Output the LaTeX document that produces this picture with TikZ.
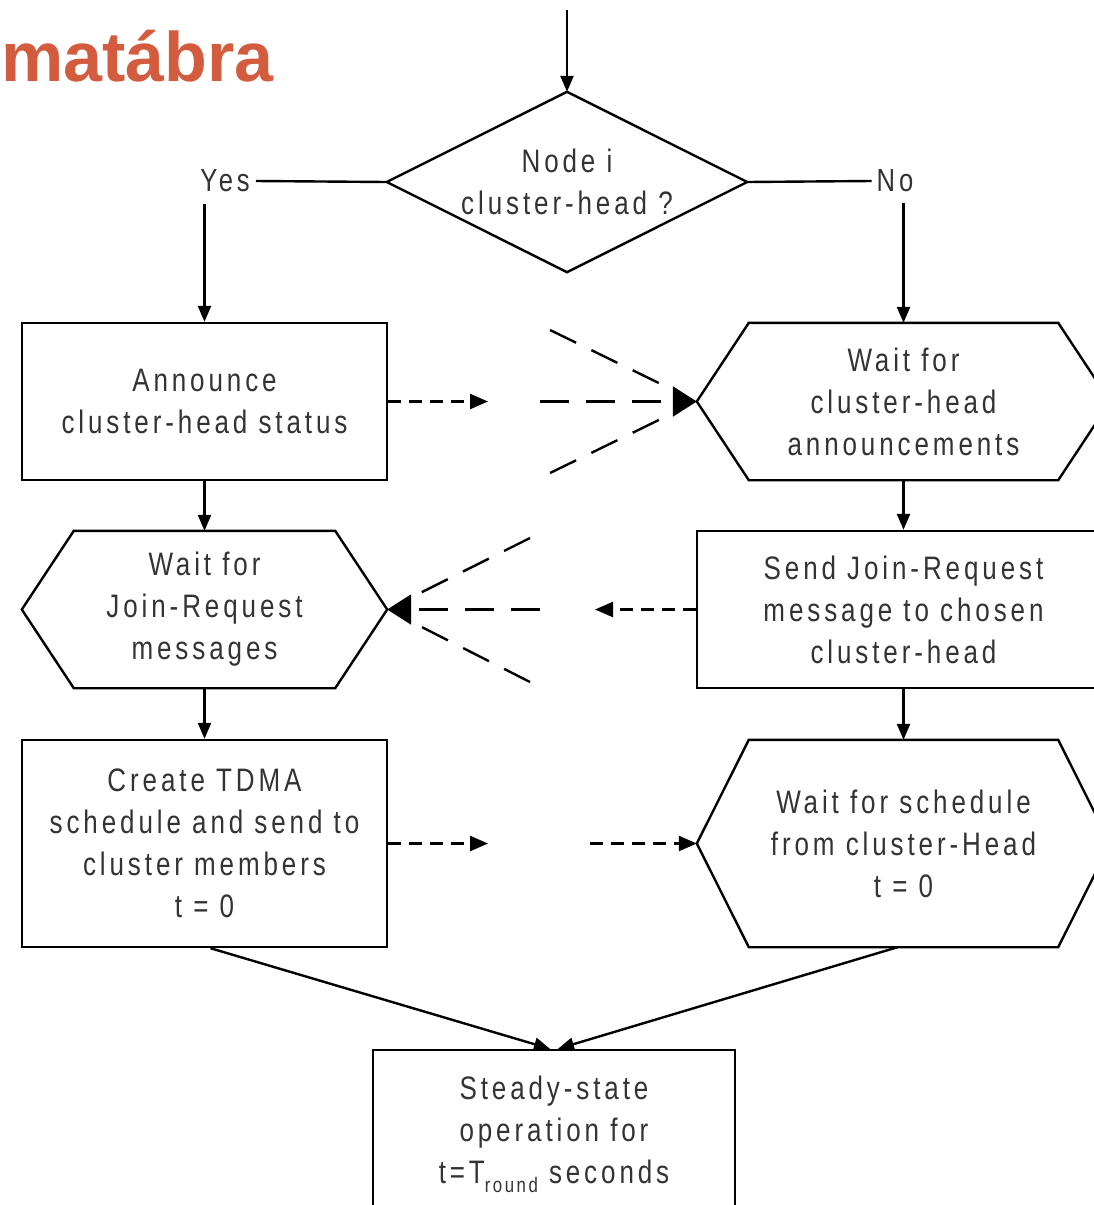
\documentclass[tikz,border=0pt]{standalone}
\usepackage{fontspec}
\setmainfont{Liberation Sans}
\newfontfamily\diagfont[FakeStretch=0.8,LetterSpace=12]{Liberation Sans}
\usetikzlibrary{arrows.meta}
\definecolor{titlecol}{HTML}{D35C3F}
\definecolor{txtcol}{HTML}{333333}
\begin{document}
\begin{tikzpicture}[x=1pt,y=-1pt,
  lbl/.style={font=\diagfont\fontsize{32.5}{42}\selectfont, text=txtcol, align=center, inner sep=0pt},
  blk/.style={lbl, draw, line width=2.4pt, minimum width=365pt, minimum height=157pt},
  hexbox/.style={lbl, minimum width=413pt, minimum height=157pt},
  hexline/.style={line width=2.4pt, line join=miter},
  conn/.style={line width=2.4pt},
  arr/.style={conn, -{Triangle[length=16pt,width=13pt]}},
  shortdash/.style={conn, dash pattern=on 13pt off 8pt, -{Triangle[length=18pt,width=15pt]}},
  longdash/.style={conn, dash pattern=on 29pt off 17pt},
  bigtip/.style={-{Triangle[length=24pt,width=30pt]}}
]
\useasboundingbox (0,0) rectangle (1094,1205);

% title
\node[font=\bfseries\fontsize{70}{70}\selectfont, text=titlecol, anchor=base west, inner sep=0pt] (title) at (1,81) {matábra};

% decision
\node[lbl, minimum width=360pt, minimum height=180pt] (q) at (567,182) {Node i\\cluster-head ?};
\draw[hexline] (q.north) -- (q.east) -- (q.south) -- (q.west) -- cycle;
\coordinate (start) at (567,10);
\draw[arr] (start) -- (q.north);

\node[lbl, font=\diagfont\fontsize{32}{36}\selectfont, inner sep=6pt] (yes) at (225,181) {Yes};
\node[lbl, font=\diagfont\fontsize{32}{36}\selectfont, inner sep=5pt] (no) at (895,181) {No};

% left column
\node[blk] (b1) at (204.5,401.5) {Announce\\cluster-head status};
\node[hexbox, minimum width=365pt] (h2) at (204.5,609.5) {Wait for\\Join-Request\\messages};
\draw[hexline] (h2.west) -- ([xshift=52pt]h2.north west) -- ([xshift=-52pt]h2.north east) -- (h2.east) -- ([xshift=-52pt]h2.south east) -- ([xshift=52pt]h2.south west) -- cycle;
\node[blk, minimum height=207pt] (b3) at (204.5,843.5) {Create TDMA\\schedule and send to\\cluster members\\t = 0};

% right column
\node[hexbox] (h1) at (903.5,401.5) {Wait for\\cluster-head\\announcements};
\draw[hexline] (h1.west) -- ([xshift=52pt]h1.north west) -- ([xshift=-52pt]h1.north east) -- (h1.east) -- ([xshift=-52pt]h1.south east) -- ([xshift=52pt]h1.south west) -- cycle;
\node[blk, minimum width=413pt] (b2) at (903.5,609.5) {Send Join-Request\\message to chosen\\cluster-head};
\node[hexbox, minimum height=207pt] (h3) at (903.5,843.5) {Wait for schedule\\from cluster-Head\\t = 0};
\draw[hexline] (h3.west) -- ([xshift=52pt]h3.north west) -- ([xshift=-52pt]h3.north east) -- (h3.east) -- ([xshift=-52pt]h3.south east) -- ([xshift=52pt]h3.south west) -- cycle;

% bottom
\node[blk, minimum width=362pt, minimum height=160pt, text depth=0pt] (bot) at (554,1130) {Steady-state\\operation for\\t=T\raisebox{-9pt}{\fontsize{21}{21}\selectfont round} seconds};

% decision branches
\draw[conn] (yes.east) -- (q.west);
\draw[conn] (q.east) -- (no.west);
\draw[arr] (b1.north |- yes.south) ++(0,6) -- (b1.north);
\draw[arr] (h1.north |- no.south) ++(0,6) -- (h1.north);

% vertical flow
\draw[arr] (b1.south) -- (h2.north);
\draw[arr] (h2.south) -- (b3.north);
\draw[arr] (h1.south) -- (b2.north);
\draw[arr] (b2.south) -- (h3.north);
\draw[arr] ([xshift=6pt]b3.south) -- ([xshift=-4pt]bot.north);
\draw[arr] ([xshift=-6pt]h3.south) -- ([xshift=4pt]bot.north);

% row 1 broadcast
\coordinate (r1a) at (488,401.5);
\coordinate (r1b) at (540,401.5);
\coordinate (r1u) at (550,330);
\coordinate (r1d) at (550,473);
\draw[shortdash] (b1.east) -- (r1a);
\draw[longdash, bigtip] (r1b) -- (h1.west);
\draw[longdash, shorten >=22pt] (r1u) -- (h1.west);
\draw[longdash, shorten >=22pt] (r1d) -- (h1.west);

% row 2 broadcast
\coordinate (r2a) at (595,609.5);
\coordinate (r2b) at (540,609.5);
\coordinate (r2u) at (530,538);
\coordinate (r2d) at (530,682);
\draw[shortdash] (b2.west) -- (r2a);
\draw[longdash, bigtip] (r2b) -- (h2.east);
\draw[longdash, shorten >=22pt] (r2u) -- (h2.east);
\draw[longdash, shorten >=22pt] (r2d) -- (h2.east);

% row 3
\coordinate (r3a) at (488,843.5);
\coordinate (r3b) at (590,843.5);
\draw[shortdash] (b3.east) -- (r3a);
\draw[shortdash] (r3b) -- (h3.west);
\end{tikzpicture}
\end{document}
